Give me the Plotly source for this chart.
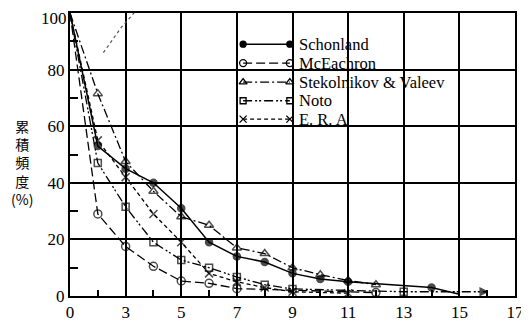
import plotly.graph_objects as go

# ---- data (x = position on the axis, origin = 1) ----
tick_vals = [1, 3, 5, 7, 9, 11, 13, 15, 17]
tick_text = ["0", "3", "5", "7", "9", "11", "13", "15", "17"]
y_tick_vals = [0, 20, 40, 60, 80, 100]
y_tick_text = ["0", "20", "40", "60", "80", "100"]

schonland_x = [1, 2, 3, 4, 5, 6, 7, 8, 9, 10, 11, 14, 15]
schonland_y = [100, 53, 45, 40, 31, 19, 14, 12, 8, 6, 5, 3, 0.6]

mceachron_x = [1, 2, 3, 4, 5, 6, 7, 12]
mceachron_y = [100, 29, 17.5, 10.5, 5.3, 4.5, 2.6, 1.2]

stek_x = [1, 2, 3, 4, 5, 6, 7, 8, 9, 10, 11, 12]
stek_y = [100, 71.5, 47.5, 37, 28, 25, 17, 15, 10, 7.5, 5.5, 4]

noto_x = [1, 2, 3, 4, 5, 6, 7, 8, 9, 13, 16]
noto_y = [100, 47, 31.5, 19, 12.7, 10, 6.7, 4, 2.5, 1.5, 1.5]

era_x = [1, 2, 3, 4, 5, 6, 7, 8, 9, 11]
era_y = [100, 55, 42, 29, 19, 8, 5, 3, 1.5, 1]

artifact_x = [2.2, 2.5, 2.85, 3.3]
artifact_y = [86, 90, 95, 100]

names = ["Schonland", "McEachron", "Stekolnikov & Valeev", "Noto", "E. R. A"]

# ---- styles ----
styles = [
    dict(dash="solid", width=1.5, symbol="circle", size=7),
    dict(dash="9px,4px", width=1.3, symbol="circle-open", size=8),
    dict(dash="9px,3px,2px,3px", width=1.3, symbol="triangle-up-open", size=8),
    dict(dash="9px,3px,2px,2px,2px,3px", width=1.3, symbol="square-open", size=7),
    dict(dash="4px,3px", width=1.3, symbol="x-thin", size=8),
]
series = [
    (schonland_x, schonland_y),
    (mceachron_x, mceachron_y),
    (stek_x, stek_y),
    (noto_x, noto_y),
    (era_x, era_y),
]

fig = go.Figure()

for i, ((xs, ys), st) in enumerate(zip(series, styles)):
    n = len(xs)
    size = [0] + [st["size"]] * (n - 1)
    symbols = [st["symbol"]] * n
    if i == 0:
        size[-1] = 0          # Schonland tail ends without marker
    if i == 3:
        symbols[-1] = "arrow-right"   # Noto tail ends with an arrow
    fig.add_trace(go.Scatter(
        x=xs, y=ys, name=names[i], mode="lines+markers", showlegend=False,
        line=dict(color="black", width=st["width"], dash=st["dash"]),
        marker=dict(symbol=symbols, size=size, color="black",
                    line=dict(width=1.5, color="black")),
    ))

fig.add_trace(go.Scatter(
    x=artifact_x, y=artifact_y, mode="lines", showlegend=False, hoverinfo="skip",
    line=dict(color="#555", width=1.2, dash="dot"),
))

# ---- hand-drawn legend (compact, like the original) on an overlay axis ----
legend_rows = [0.89, 0.823, 0.756, 0.690, 0.625]
leg_x0, leg_x1, leg_text_x = 0.389, 0.494, 0.510
annotations = []
for i, st in enumerate(styles):
    yy = legend_rows[i]
    fig.add_trace(go.Scatter(
        x=[leg_x0, leg_x1], y=[yy, yy], xaxis="x2", yaxis="y2",
        mode="lines+markers", showlegend=False, hoverinfo="skip",
        line=dict(color="black", width=st["width"], dash=st["dash"]),
        marker=dict(symbol=st["symbol"], size=st["size"] - 1, color="black",
                    line=dict(width=1.3, color="black")),
    ))
    annotations.append(dict(
        text=names[i], xref="paper", yref="paper", x=leg_text_x, y=yy,
        xanchor="left", yanchor="middle", showarrow=False,
        font=dict(family="Liberation Serif", size=16.5, color="black"),
    ))

annotations.append(dict(
    text="累<br>積<br>頻<br>度<br>(%)", xref="paper", yref="paper",
    x=-0.108, y=0.47, xanchor="center", yanchor="middle", showarrow=False,
    align="center",
    font=dict(family="Noto Sans CJK JP", size=14, color="black"),
))

axis_font = dict(family="Liberation Serif", size=17, color="black")

# the top tick label sits at the very edge of the page: draw it as text
# pinned to the top of the figure so it is not clipped
top_label = y_tick_text[-1]
shown_y_text = y_tick_text[:-1] + [""]
annotations.append(dict(
    text=top_label, xref="paper", yref="paper", x=-0.004, y=1 + 5 / 283,
    xanchor="right", yanchor="top", showarrow=False, height=18, borderpad=0,
    font=axis_font,
))

fig.update_xaxes(
    range=[1, 17], tickvals=tick_vals, ticktext=tick_text,
    showgrid=True, gridcolor="black", gridwidth=1.5,
    showline=True, linecolor="black", linewidth=2, mirror=True,
    ticks="", tickfont=axis_font, zeroline=False, automargin=False,
    ticklabeloverflow="allow",
    minor=dict(tickvals=[2, 4, 6, 8, 10, 12, 14, 16], ticks="inside",
               ticklen=6, tickcolor="black", tickwidth=1.5, showgrid=False),
)
fig.update_yaxes(
    range=[0, 100], tickvals=y_tick_vals, ticktext=shown_y_text,
    showgrid=True, gridcolor="black", gridwidth=1.5,
    showline=True, linecolor="black", linewidth=2, mirror=True,
    ticks="", tickfont=axis_font, zeroline=False, automargin=False,
    ticklabeloverflow="allow",
    minor=dict(tickvals=[10, 30, 50, 70, 90], ticks="inside",
               ticklen=8, tickcolor="black", tickwidth=1.5, showgrid=False),
)

# page body has an 8px margin, so the figure is sized to fit the window
fig.update_layout(
    width=521, height=315,
    margin=dict(l=62, r=14, t=5, b=27, autoexpand=False),
    paper_bgcolor="white", plot_bgcolor="white",
    font=dict(family="Liberation Serif", color="black"),
    showlegend=False,
    xaxis2=dict(overlaying="x", range=[0, 1], visible=False, fixedrange=True),
    yaxis2=dict(overlaying="y", range=[0, 1], visible=False, fixedrange=True),
    annotations=annotations,
)

fig.write_html("out.html")
